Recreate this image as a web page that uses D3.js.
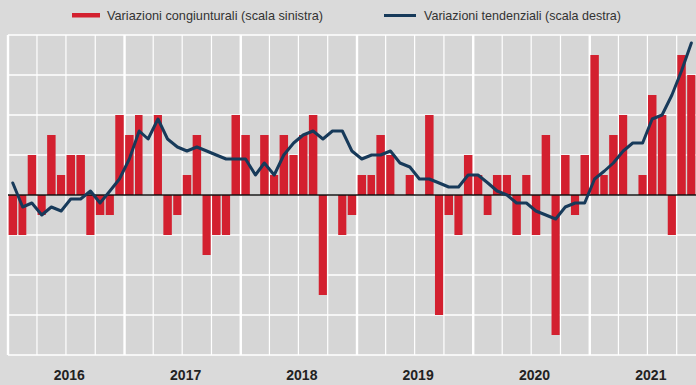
<!DOCTYPE html>
<html>
<head>
<meta charset="utf-8">
<script src="https://cdn.jsdelivr.net/npm/d3@7"></script>
<style>
  body { margin: 0; background: #d9d9d9; }
  svg { display: block; font-family: "Liberation Sans Narrow", "Arial Narrow", "Liberation Sans", Arial, sans-serif; }
</style>
</head>
<body>
<svg width="696" height="385"></svg>
<script>
// mesi (gen 2016 - nov 2021)
var mesi = [
  "2016-01","2016-02","2016-03","2016-04","2016-05","2016-06","2016-07","2016-08","2016-09","2016-10","2016-11","2016-12",
  "2017-01","2017-02","2017-03","2017-04","2017-05","2017-06","2017-07","2017-08","2017-09","2017-10","2017-11","2017-12",
  "2018-01","2018-02","2018-03","2018-04","2018-05","2018-06","2018-07","2018-08","2018-09","2018-10","2018-11","2018-12",
  "2019-01","2019-02","2019-03","2019-04","2019-05","2019-06","2019-07","2019-08","2019-09","2019-10","2019-11","2019-12",
  "2020-01","2020-02","2020-03","2020-04","2020-05","2020-06","2020-07","2020-08","2020-09","2020-10","2020-11","2020-12",
  "2021-01","2021-02","2021-03","2021-04","2021-05","2021-06","2021-07","2021-08","2021-09","2021-10","2021-11"
];

// variazioni congiunturali (scala sinistra)
var congiunturali = [
  -0.2, -0.2, 0.2, -0.1, 0.3, 0.1, 0.2, 0.2, -0.2, -0.1, -0.1, 0.4,
  0.3, 0.4, 0.0, 0.4, -0.2, -0.1, 0.1, 0.3, -0.3, -0.2, -0.2, 0.4,
  0.3, 0.0, 0.3, 0.1, 0.3, 0.2, 0.3, 0.4, -0.5, 0.0, -0.2, -0.1,
  0.1, 0.1, 0.3, 0.2, 0.0, 0.1, 0.0, 0.4, -0.6, -0.1, -0.2, 0.2,
  0.1, -0.1, 0.1, 0.1, -0.2, 0.1, -0.2, 0.3, -0.7, 0.2, -0.1, 0.2,
  0.7, 0.1, 0.3, 0.4, 0.0, 0.1, 0.5, 0.4, -0.2, 0.7, 0.6
];

// variazioni tendenziali (scala destra)
var tendenziali = [
  0.3, -0.3, -0.2, -0.5, -0.3, -0.4, -0.1, -0.1, 0.1, -0.2, 0.1, 0.4,
  0.9, 1.6, 1.4, 1.9, 1.4, 1.2, 1.1, 1.2, 1.1, 1.0, 0.9, 0.9,
  0.9, 0.5, 0.8, 0.5, 1.0, 1.3, 1.5, 1.6, 1.4, 1.6, 1.6, 1.1,
  0.9, 1.0, 1.0, 1.1, 0.8, 0.7, 0.4, 0.4, 0.3, 0.2, 0.2, 0.5,
  0.5, 0.3, 0.1, 0.0, -0.2, -0.2, -0.4, -0.5, -0.6, -0.3, -0.2, -0.2,
  0.4, 0.6, 0.8, 1.1, 1.3, 1.3, 1.9, 2.0, 2.5, 3.1, 3.8
];

var anni = ["2016", "2017", "2018", "2019", "2020", "2021"];

var legenda = [
  { name: "Variazioni congiunturali (scala sinistra)", type: "bar" },
  { name: "Variazioni tendenziali (scala destra)", type: "line" }
];

var svg = d3.select("svg"),
    width = +svg.attr("width"),
    height = +svg.attr("height");

var plot = { left: 8, top: 35, right: 706, bottom: 355 };
var parseMese = d3.timeParse("%Y-%m");

var data = mesi.map((m, i) => ({
  date: parseMese(m),
  cong: congiunturali[i],
  tend: tendenziali[i]
}));

var x = d3.scaleTime()
  .domain([new Date(2016, 0, 1), new Date(2022, 0, 1)])
  .range([plot.left, plot.right]);

var yLeft = d3.scaleLinear().domain([-0.8, 0.8]).range([plot.bottom, plot.top]);
var yRight = d3.scaleLinear().domain([-4, 4]).range([plot.bottom, plot.top]);

svg.append("rect")
  .attr("width", width).attr("height", height)
  .attr("fill", "#dadada");

svg.append("rect")
  .attr("x", plot.left).attr("y", plot.top)
  .attr("width", plot.right - plot.left).attr("height", plot.bottom - plot.top)
  .attr("fill", "#d6d6d6");

// griglia orizzontale
svg.append("g")
  .selectAll("line")
  .data(d3.range(-0.8, 0.81, 0.2))
  .enter().append("line")
  .attr("x1", plot.left).attr("x2", plot.right)
  .attr("y1", d => yLeft(d)).attr("y2", d => yLeft(d))
  .attr("stroke", "#fff").attr("stroke-width", 1.3);

// griglia verticale: trimestri e anni
var trimestri = d3.timeMonth.every(3).range(new Date(2016, 0, 1), new Date(2022, 0, 2));
svg.append("g")
  .selectAll("line")
  .data(trimestri)
  .enter().append("line")
  .attr("x1", d => x(d)).attr("x2", d => x(d))
  .attr("y1", plot.top).attr("y2", plot.bottom)
  .attr("stroke", "#fff")
  .attr("stroke-width", d => d.getMonth() === 0 ? 2.4 : 1.2);

// barre
svg.append("g")
  .selectAll("rect")
  .data(data)
  .enter().append("rect")
  .attr("x", d => x(d.date) + 0.6)
  .attr("width", d => x(d3.timeMonth.offset(d.date, 1)) - x(d.date) - 1.4)
  .attr("y", d => Math.min(yLeft(d.cong), yLeft(0)))
  .attr("height", d => Math.abs(yLeft(d.cong) - yLeft(0)))
  .attr("fill", "#d3202f");

// asse zero
svg.append("line")
  .attr("x1", plot.left).attr("x2", plot.right)
  .attr("y1", yLeft(0)).attr("y2", yLeft(0))
  .attr("stroke", "#111").attr("stroke-width", 1.4);

// linea tendenziale
var line = d3.line()
  .x(d => x(d3.timeDay.offset(d.date, 15)))
  .y(d => yRight(d.tend));

svg.append("path")
  .datum(data)
  .attr("d", line)
  .attr("fill", "none")
  .attr("stroke", "#173a5a")
  .attr("stroke-width", 3)
  .attr("stroke-linejoin", "round")
  .attr("stroke-linecap", "round");

// etichette anni
svg.append("g")
  .selectAll("text")
  .data(anni)
  .enter().append("text")
  .attr("x", d => (x(new Date(+d, 0, 1)) + x(new Date(+d + 1, 0, 1))) / 2 + 3)
  .attr("y", 380)
  .attr("text-anchor", "middle")
  .attr("font-size", 14)
  .attr("font-weight", "bold")
  .attr("fill", "#222")
  .text(d => d);

// legenda
var legX = [72, 384], legW = [216, 197];
var leg = svg.append("g")
  .selectAll("g")
  .data(legenda)
  .enter().append("g")
  .attr("transform", (d, i) => `translate(${legX[i]},0)`);

leg.filter(d => d.type === "bar").append("rect")
  .attr("x", 0).attr("y", 13).attr("width", 28).attr("height", 4.5)
  .attr("fill", "#d3202f");

leg.filter(d => d.type === "line").append("line")
  .attr("x1", 0).attr("x2", 32).attr("y1", 15.5).attr("y2", 15.5)
  .attr("stroke", "#173a5a").attr("stroke-width", 3);

leg.append("text")
  .attr("x", (d, i) => i === 0 ? 35 : 40)
  .attr("y", 20)
  .attr("font-size", 13.5)
  .attr("fill", "#333")
  .attr("textLength", (d, i) => legW[i])
  .attr("lengthAdjust", "spacingAndGlyphs")
  .text(d => d.name);
</script>
</body>
</html>
